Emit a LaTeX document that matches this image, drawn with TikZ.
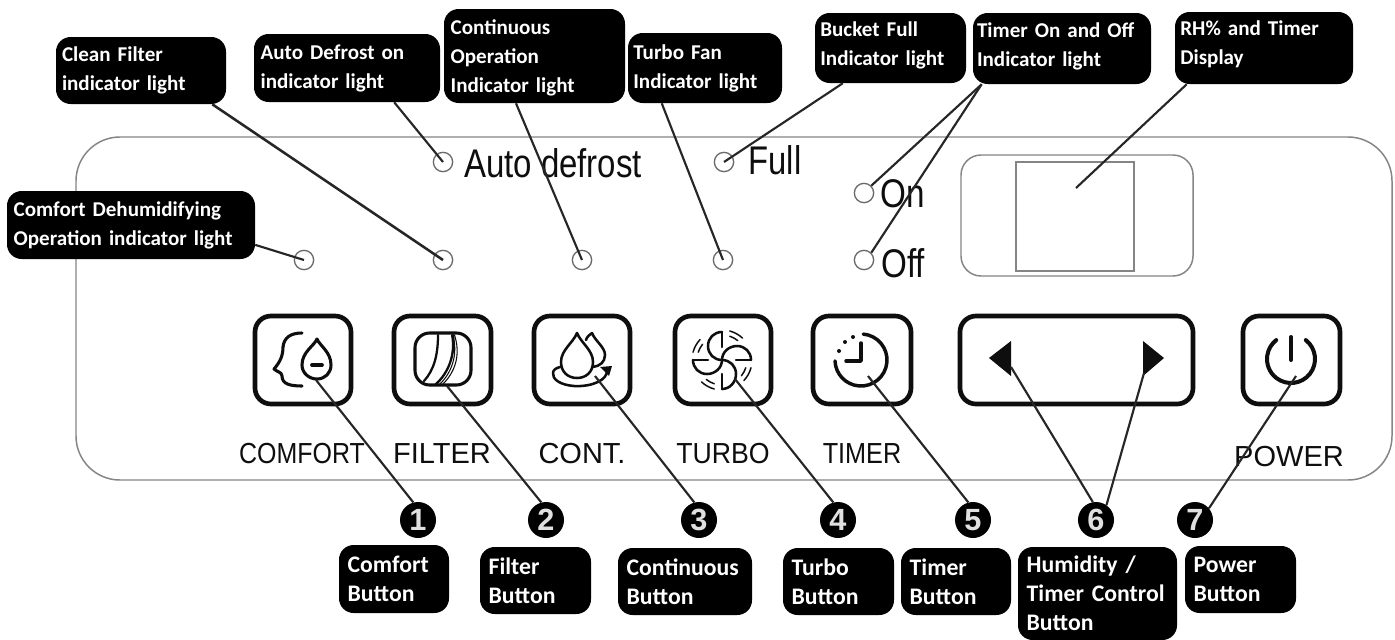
\documentclass[tikz,border=0pt]{standalone}
\usepackage{fontspec}
\setmainfont{Liberation Sans}
\newfontfamily\calloutfont{Carlito}[Ligatures=Common]
\usetikzlibrary{calc,arrows.meta}
\definecolor{panelgray}{HTML}{858585}
\definecolor{leader}{HTML}{262626}
\definecolor{ink}{HTML}{0E0E0E}
\tikzset{
  x=0.75pt,y=-0.75pt,
  calloutvariant/.style={},
  calloutbox/.style={fill=black,rounded corners=11pt,inner sep=0pt,align=left,text=white,
    font=\calloutfont\bfseries\fontsize{15.8pt}{21.75pt}\selectfont},
  leaderline/.style={draw=leader,line width=1.9pt},
  thinline/.style={draw=leader,line width=1.6pt},
  lamp/.style={circle,draw=panelgray!80!black,line width=1pt,minimum size=14.5pt,inner sep=0pt},
  buttonbox/.style={draw=ink,line width=3.5pt,rounded corners=12pt,inner sep=0pt},
  icon/.style={draw=ink,line width=2.3pt,line cap=round,line join=round},
  iconthin/.style={draw=ink,line width=.8pt,line cap=round},
  panellabel/.style={anchor=base,inner sep=0pt,text=ink,font=\fontsize{21.75pt}{24pt}\selectfont},
  biglabel/.style={anchor=base,inner sep=0pt,text=ink,font=\fontsize{30pt}{32pt}\selectfont},
  badge/.style={circle,fill=black,minimum size=27pt,inner sep=0pt,text=white!88!black,font=\bfseries\fontsize{23pt}{24pt}\selectfont},
  panelline/.style={draw=panelgray,line width=1.1pt},
}
\newcommand{\callout}[7]{%
  \pgfmathsetlengthmacro\cw{(#4-#2)*0.75pt-#7*2}%
  \pgfmathsetlengthmacro\ch{(#5-#3)*0.75pt}%
  \node[calloutbox,calloutvariant,inner xsep=#7,text width=\cw,minimum height=\ch] (#1) at ({(#2+#4)/2},{(#3+#5)/2}) {#6};}
\newcommand{\btn}[5]{%
  \pgfmathsetlengthmacro\cw{(#4-#2)*0.75pt}%
  \pgfmathsetlengthmacro\ch{(#5-#3)*0.75pt}%
  \node[buttonbox,minimum width=\cw,minimum height=\ch] (#1) at ({(#2+#4)/2},{(#3+#5)/2}) {};}
\begin{document}
\begin{tikzpicture}
\useasboundingbox (0,0) rectangle (1395,639);
\fill[white] (0,0) rectangle (1395,639);
% panel
\draw[panelline,rounded corners=33pt] (76,137) rectangle (1392,480);
\draw[panelline,rounded corners=15pt] (961,155) rectangle (1193,276);
\draw[panelline] (1016,162) rectangle (1134,271);
% lamps
\node[lamp] (lpcomfort) at (304,260) {};
\node[lamp] (lpfilter) at (443,260) {};
\node[lamp] (lpcont) at (582,260) {};
\node[lamp] (lpturbo) at (723,260) {};
\node[lamp] (lpauto) at (443,162) {};
\node[lamp] (lpfull) at (724,162) {};
\node[lamp] (lpon) at (864,193) {};
\node[lamp] (lpoff) at (864,260) {};
\coordinate (dispaim) at (1076,188);
% panel labels
\node[biglabel] (tauto) at (553,177) {\scalebox{.825}[1]{Auto defrost}};
\node[biglabel] (tfull) at (775,174) {\scalebox{.82}[1]{Full}};
\node[biglabel] (ton) at (903,207) {\scalebox{.83}[1]{On}};
\node[biglabel] (toff) at (903,277) {\scalebox{.83}[1]{Off}};
\node[panellabel] (tcomfort) at (302,463) {\scalebox{.86}[1]{COMFORT}};
\node[panellabel] (tfilter) at (442,463) {FILTER};
\node[panellabel] (tcontb) at (582,463) {CONT.};
\node[panellabel] (tturbo) at (723,463) {\scalebox{.92}[1]{TURBO}};
\node[panellabel] (ttimer) at (862,463) {\scalebox{.87}[1]{TIMER}};
\node[panellabel] (tpower) at (1289,466) {POWER};
% buttons
\btn{bcomfort}{255}{316}{351}{404}
\btn{bfilter}{394}{316}{491}{404}
\btn{bcont}{534}{316}{630}{404}
\btn{bturbo}{675}{316}{771}{404}
\btn{btimer}{813}{316}{911}{404}
\btn{bwide}{960}{316}{1193}{404}
\btn{bpower}{1243}{316}{1340}{404}
% comfort icon
\draw[icon] (302,333) .. controls (290,333) and (284,338) .. (283,347) .. controls (283,356) and (280,362) .. (274,369) .. controls (277,372) and (282,372) .. (282,376) .. controls (282,384) and (290,386) .. (302,386);
\draw[icon] (317,339) .. controls (320,346) and (331,352) .. (331,365) .. controls (331,373) and (325,379) .. (317,379) .. controls (309,379) and (302,373) .. (302,365) .. controls (302,352) and (314,346) .. (317,339) -- cycle;
\draw[icon,line width=2.8pt] (312,365) -- (322,365);
% filter icon
\draw[icon,rounded corners=11pt] (415,333) rectangle (471,385);
\draw[icon,line width=1.7pt] (438,335) .. controls (438,355) and (434,370) .. (424,381);
\draw[icon,line width=1.7pt] (453,335) .. controls (455,355) and (449,372) .. (436,384);
\foreach \dx in {3,6,9}{\draw[iconthin] ({450-\dx/2+\dx},335) .. controls ({452+\dx},355) and ({446+\dx},372) .. ({434+\dx},384);}
% cont icon
\draw[icon,line width=1.9pt] (577,333) .. controls (581,343) and (593,350) .. (593,362) .. controls (593,372) and (586,378) .. (577,378) .. controls (568,378) and (561,372) .. (561,362) .. controls (561,350) and (573,343) .. (577,333) -- cycle;
\draw[icon,line width=1.9pt] (586,340) .. controls (587,336) and (590,335) .. (592,333) .. controls (595,341) and (605,347) .. (605,355) .. controls (605,362) and (600,366) .. (593,367);
\draw[icon,line width=1.9pt] (607,370) .. controls (608,380) and (592,387) .. (574,386) .. controls (560,385) and (552,379) .. (553,373) .. controls (553,370) and (556,368) .. (560,367);
\fill[ink] (600,367) -- (612,366) -- (609,376) -- cycle;
% turbo icon
\begin{scope}[icon/.append style={line width=1.9pt}]
\draw[icon] (722,332) -- (722,347);
\draw[icon] (722,332) .. controls (714,332) and (708,338) .. (708,346) .. controls (708,354) and (714,360) .. (722,360);
\draw[icon] (751,360) -- (736,360);
\draw[icon] (751,360) .. controls (751,352) and (745,346) .. (737,346) .. controls (729,346) and (722,352) .. (722,360);
\draw[icon] (722,389) -- (722,374);
\draw[icon] (722,389) .. controls (730,389) and (736,382) .. (736,374) .. controls (736,366) and (730,360) .. (722,360);
\draw[icon] (693,360) -- (708,360);
\draw[icon] (693,360) .. controls (693,368) and (699,374) .. (707,374) .. controls (715,374) and (722,368) .. (722,360);
\end{scope}
\foreach \a in {-75,15,105,195}{
  \draw[icon,line width=1.1pt] (722,360) ++(\a:30) arc[start angle=\a,end angle=\a+28,radius=30];
  \draw[icon,line width=1.1pt] (722,360) ++(\a+3:25) arc[start angle=\a+3,end angle=\a+24,radius=25];
}
% timer icon
\draw[icon,line width=2.6pt] (861,360) ++(-85:26) arc[start angle=-85,end angle=178,radius=26];
\draw[icon,line width=2.6pt] (861,343) -- (861,361) -- (846,361);
\fill[ink] (853,337) circle[radius=2] (845,342) circle[radius=2] (839,351) circle[radius=2];
% arrows
\fill[ink] (989,358) -- (1011,341) -- (1011,376) -- cycle;
\fill[ink] (1164,358) -- (1143,341) -- (1143,376) -- cycle;
% power icon
\draw[icon,line width=3pt] (1291,359) ++(-52:24) arc[start angle=-52,end angle=232,radius=24];
\draw[icon,line width=3pt] (1291,337) -- (1291,360);
% callouts
\callout{cclean}{56}{37}{226}{104}{Clean Filter\\indicator light}{4.5pt}
\callout{cauto}{254}{34}{440}{102}{Auto Defrost on\\indicator light}{5pt}
\callout{cconti}{444}{9}{625}{103}{\rule{0pt}{14pt}Continuous\\Operation\\Indicator light}{5pt}
\callout{cturbo}{628}{33}{782}{103}{Turbo Fan\\Indicator light}{4pt}
\callout{cbucket}{815}{13}{966}{83}{Bucket Full\\Indicator light\rule[-6.5pt]{0pt}{6.5pt}}{4pt}
\callout{ctimer}{973}{13}{1151}{84}{Timer On and Off\\Indicator light\rule[-6.5pt]{0pt}{6.5pt}}{3pt}
\callout{crh}{1175}{12}{1353}{84}{RH\% and Timer\\Display\rule[-7.5pt]{0pt}{7.5pt}}{4pt}
\callout{ccomfort}{7}{191}{255}{259}{Comfort Dehumidifying\\Operation indicator light}{5pt}
\tikzset{calloutvariant/.style={font=\calloutfont\bfseries\fontsize{17.8pt}{21.75pt}\selectfont}}
\callout{dcomfort}{339}{545}{449}{613}{Comfort\\Button}{6.5pt}
\callout{dfilter}{480}{547}{591}{614}{Filter\\Button}{6.5pt}
\callout{dcont}{618}{548}{752}{615}{Continuous\\Button}{6.5pt}
\callout{dturbo}{783}{548}{894}{615}{Turbo\\Button}{6.5pt}
\callout{dtimer}{901}{548}{1011}{615}{Timer\\Button}{6.5pt}
\callout{dhum}{1018}{547}{1177}{640}{Humidity /\\Timer Control\\Button}{6.5pt}
\callout{dpower}{1185}{546}{1296}{613}{Power\\Button}{6.5pt}
% badges
\node[badge] (n1) at (418,520) {1};
\node[badge] (n2) at (546,520) {2};
\node[badge] (n3) at (699,520) {3};
\node[badge] (n4) at (838,520) {4};
\node[badge] (n5) at (973,520) {5};
\node[badge] (n6) at (1096,520) {6};
\node[badge] (n7) at (1195,520) {7};
% free ends inside the icons
\coordinate (t1) at (316,380);
\coordinate (t2) at (447,386);
\coordinate (t3) at (595,376);
\coordinate (t4) at (735,379);
\coordinate (t5) at (868,376);
\coordinate (t6a) at (1011,367);
\coordinate (t6b) at (1144,373);
\coordinate (t7) at (1296,376);
% upper leaders
\draw[thinline] ($(ccomfort.north east)!.79!(ccomfort.south east)$) -- (lpcomfort.center);
\draw[leaderline] ($(cclean.south west)!.918!(cclean.south east)$) -- (lpfilter.center);
\draw[thinline] ($(cauto.south west)!.753!(cauto.south east)$) -- (lpauto.center);
\draw[thinline] ($(cconti.south west)!.398!(cconti.south east)$) -- (lpcont.center);
\draw[thinline] ($(cturbo.south west)!.22!(cturbo.south east)$) -- (lpturbo.center);
\draw[thinline] ($(cbucket.south west)!.185!(cbucket.south east)$) -- (lpfull.center);
\draw[thinline] ($(ctimer.south west)!.05!(ctimer.south east)$) -- (lpon.45);
\draw[thinline] ($(ctimer.south west)!.05!(ctimer.south east)$) -- (lpoff.45);
\draw[thinline] ($(crh.south west)!.067!(crh.south east)$) -- (dispaim);
% lower leaders
\draw[thinline] (t1) -- (n1.105);
\draw[thinline] (t2) -- (n2.105);
\draw[thinline] (t3) -- (n3.105);
\draw[thinline] (t4) -- (n4.105);
\draw[thinline] (t5) -- (n5.105);
\draw[thinline] (t6a) -- (n6.100);
\draw[thinline] (t6b) -- (n6.55);
\draw[thinline] (t7) -- (n7.40);
\end{tikzpicture}
\end{document}
